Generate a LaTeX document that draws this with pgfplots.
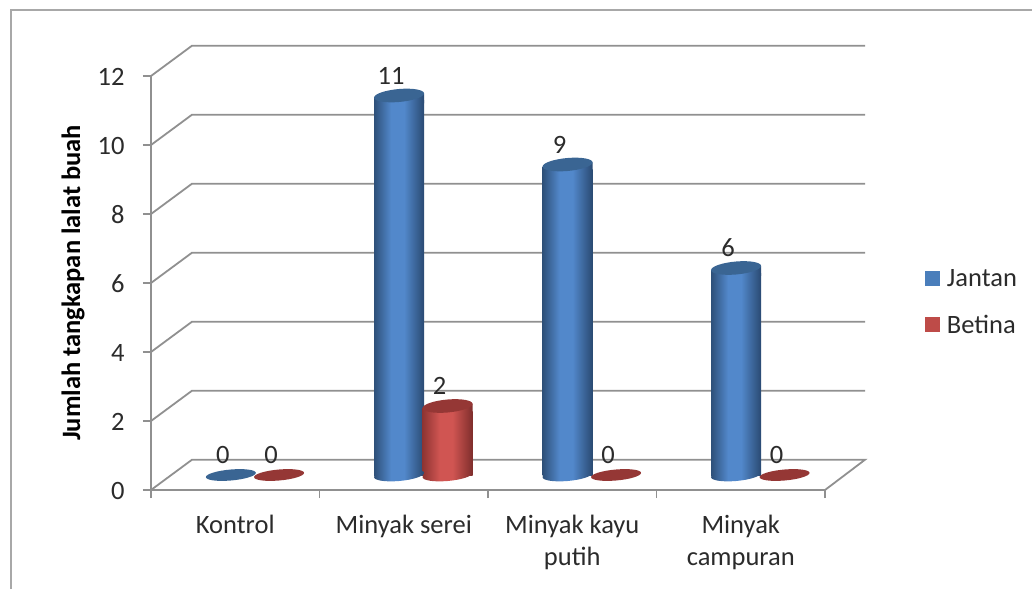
\documentclass[border=0pt]{standalone}
\usepackage{fontspec}
\setmainfont{Carlito}
\usepackage{pgfplots}
\usepackage{pgfplotstable}
\pgfplotsset{compat=1.18}
\definecolor{gridc}{HTML}{909090}
\definecolor{framec}{HTML}{A8A8A8}
\definecolor{txt}{HTML}{2B2B2B}
\definecolor{capblue}{HTML}{3A6593}
\definecolor{capred}{HTML}{953735}
\definecolor{legb}{HTML}{4A7EBB}
\definecolor{legr}{HTML}{BE4B48}
\definecolor{bdark}{HTML}{2E5079}
\definecolor{blight}{HTML}{5288CB}
\definecolor{bmid}{HTML}{2A4A72}
\definecolor{rdark}{HTML}{8E3432}
\definecolor{rlight}{HTML}{D05552}
\definecolor{rmid}{HTML}{7F2E2C}
\pgfdeclarehorizontalshading{cylB}{100bp}{color(0bp)=(bdark); color(25bp)=(bdark); color(42bp)=(blight); color(55bp)=(blight); color(75bp)=(bmid); color(100bp)=(bmid)}
\pgfdeclarehorizontalshading{cylR}{100bp}{color(0bp)=(rdark); color(25bp)=(rdark); color(42bp)=(rlight); color(55bp)=(rlight); color(75bp)=(rmid); color(100bp)=(rmid)}
\newcommand\tiltell[1]{\pgfpathellipse{\pgfpointorigin}{\pgfpoint{25pt}{2.1pt}}{\pgfpoint{0pt}{#1}}}
\newcommand\shadeit[1]{\pgfshadepath{#1}{0}\pgfusepath{discard}}
\newcommand\collar{\pgfpathmoveto{\pgfpoint{-25pt}{-2.1pt}}\pgfpathlineto{\pgfpoint{25pt}{2.1pt}}\pgfpathlineto{\pgfpoint{25pt}{-8pt}}\pgfpathlineto{\pgfpoint{-25pt}{-8pt}}\pgfpathclose}
\pgfdeclareplotmark{capB}{%
  \begin{pgfscope}\collar\shadeit{cylB}\end{pgfscope}
  \begin{pgfscope}\pgfsetfillcolor{capblue}\tiltell{6.5pt}\pgfusepathqfill\end{pgfscope}}
\pgfdeclareplotmark{capR}{%
  \begin{pgfscope}\collar\shadeit{cylR}\end{pgfscope}
  \begin{pgfscope}\pgfsetfillcolor{capred}\tiltell{6.5pt}\pgfusepathqfill\end{pgfscope}}
\pgfdeclareplotmark{flatB}{\pgfsetfillcolor{capblue}\tiltell{5.5pt}\pgfusepathqfill}
\pgfdeclareplotmark{flatR}{\pgfsetfillcolor{capred}\tiltell{5.5pt}\pgfusepathqfill}
\pgfdeclareplotmark{botB}{\begin{pgfscope}\tiltell{6pt}\shadeit{cylB}\end{pgfscope}}
\pgfdeclareplotmark{botR}{\begin{pgfscope}\tiltell{6pt}\shadeit{cylR}\end{pgfscope}}
\pgfplotstableread{
x v
0.474 0
1.472 11
2.472 9
3.472 6
}\jantan
\pgfplotstableread{
x v
0.760 0
1.760 2
2.760 0
3.760 0
}\betina
\begin{document}
\begin{tikzpicture}[x=1pt,y=1pt]
\path[use as bounding box] (-151pt,-99pt) rectangle (881pt,490pt);
\draw[framec,line width=1.8pt] (-140pt,-99pt)--(-140pt,480pt)--(881pt,480pt);
\begin{axis}[
  at={(0pt,0pt)},anchor=south west,
  scale only axis,width=674pt,height=414pt,
  clip=false,
  xmin=0,xmax=4,ymin=-0.4348,ymax=11.5652,
  axis x line*=bottom,axis y line*=left,
  axis line style={gridc,line width=1.8pt,-},
  /pgf/number format/assume math mode=true,
  font=\fontsize{26.5}{32}\selectfont,
  every tick label/.append style={text=txt},
  xtick={0,1,2,3,4},
  x tick label as interval=true,
  xticklabels={Kontrol,Minyak serei,Minyak kayu\\putih,Minyak\\campuran},
  xticklabel style={align=center,anchor=north,yshift=-14pt,text=txt},
  ytick={-0.4348,1.5652,3.5652,5.5652,7.5652,9.5652,11.5652},
  yticklabels={0,2,4,6,8,10,12},
  yticklabel style={anchor=east,xshift=-15pt,yshift=-1pt},
  tick align=outside,major tick length=8pt,
  tick style={gridc,line width=1.5pt},
  ylabel={\textbf{Jumlah tangkapan lalat buah}},
  ylabel style={at={(axis description cs:-0.1157,0.5)},anchor=center,rotate=0,text=black},
  legend style={at={(axis cs:4.593,6.015)},anchor=north west,draw=none,fill=none,
    font=\fontsize{26.5}{32}\selectfont,text=txt,row sep=23pt,
    inner sep=0pt,outer sep=0pt},
  legend cell align=left,
  vlab/.style={nodes near coords,point meta=y,
    nodes near coords style={anchor=center,xshift=#1,yshift=20pt,text=txt,/pgf/number format/precision=0}},
]
\pgfplotsset{gl/.style={gridc,line width=1.8pt,no marks,forget plot}}
\addplot[gl] coordinates {(0,-0.4348)(0.2433,0.4432)(4.2375,0.4432)(4,-0.4348)};
\addplot[gl] coordinates {(0,1.5652)(0.2433,2.4432)(4.2375,2.4432)};
\addplot[gl] coordinates {(0,3.5652)(0.2433,4.4432)(4.2375,4.4432)};
\addplot[gl] coordinates {(0,5.5652)(0.2433,6.4432)(4.2375,6.4432)};
\addplot[gl] coordinates {(0,7.5652)(0.2433,8.4432)(4.2375,8.4432)};
\addplot[gl] coordinates {(0,9.5652)(0.2433,10.4432)(4.2375,10.4432)};
\addplot[gl] coordinates {(0,11.5652)(0.2433,12.4432)(4.2375,12.4432)};
% Jantan
\addplot[only marks,mark=botB,forget plot,restrict y to domain=-50:20] table[x=x,y expr=\thisrow{v}>0?0:-100] {\jantan};
\addplot[ybar,bar width=50pt,bar shift=0pt,draw=none,shade,shading=cylB,forget plot,restrict y to domain=0.5:20,restrict x to domain=1:2] table[x=x,y expr=\thisrow{v}-0.15] {\jantan};
\addplot[ybar,bar width=50pt,bar shift=0pt,draw=none,shade,shading=cylB,forget plot,restrict y to domain=0.5:20,restrict x to domain=2:3] table[x=x,y expr=\thisrow{v}-0.15] {\jantan};
\addplot[ybar,bar width=50pt,bar shift=0pt,draw=none,shade,shading=cylB,forget plot,restrict y to domain=0.5:20,restrict x to domain=3:4] table[x=x,y expr=\thisrow{v}-0.15] {\jantan};
\addplot[only marks,mark=capB,forget plot,restrict y to domain=0.5:20,vlab=-8pt] table[x=x,y=v] {\jantan};
\addplot[only marks,mark=flatB,forget plot,restrict y to domain=-1:0.5,vlab=-8pt] table[x=x,y=v] {\jantan};
% Betina
\addplot[only marks,mark=botR,forget plot,restrict y to domain=-50:20] table[x=x,y expr=\thisrow{v}>0?0:-100] {\betina};
\addplot[ybar,bar width=50pt,bar shift=0pt,draw=none,shade,shading=cylR,forget plot,restrict y to domain=0.5:20,restrict x to domain=1:2] table[x=x,y expr=\thisrow{v}-0.15] {\betina};
\addplot[only marks,mark=capR,forget plot,restrict y to domain=0.5:20,vlab=-8pt] table[x=x,y=v] {\betina};
\addplot[only marks,mark=flatR,forget plot,restrict y to domain=-1:0.5,vlab=-8pt] table[x=x,y=v] {\betina};
\addlegendimage{legend image code/.code={\fill[legb,draw=none] (0pt,-7.5pt) rectangle (15pt,7.5pt); \path[draw=none,fill=none] (0pt,0pt) rectangle (20pt,0.1pt);}}
\addlegendentry{Jantan}
\addlegendimage{legend image code/.code={\fill[legr,draw=none] (0pt,-7.5pt) rectangle (15pt,7.5pt); \path[draw=none,fill=none] (0pt,0pt) rectangle (20pt,0.1pt);}}
\addlegendentry{Betina}
\end{axis}
\end{tikzpicture}
\end{document}
